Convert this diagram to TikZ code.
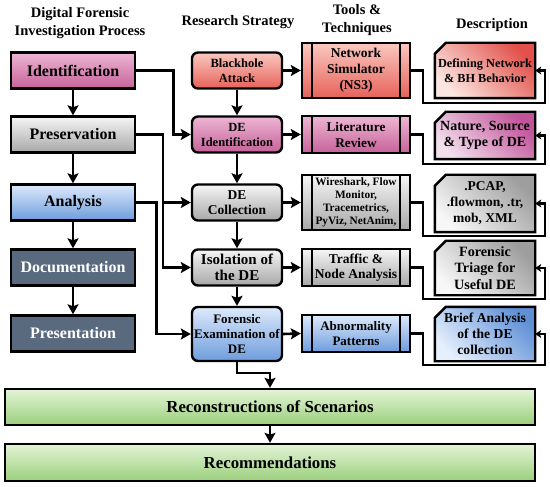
\documentclass[tikz,border=0pt]{standalone}
\usepackage{fontspec}
\setmainfont{Liberation Serif}
\usetikzlibrary{arrows.meta,calc}
\pgfdeclarelayer{bg}
\pgfsetlayers{bg,main}
\definecolor{pinkT}{HTML}{EDB6D3}
\definecolor{pinkB}{HTML}{C7629A}
\definecolor{redT}{HTML}{FAC8C0}
\definecolor{redB}{HTML}{E6625A}
\definecolor{greyT}{HTML}{F5F5F5}
\definecolor{greyB}{HTML}{A8A8A8}
\definecolor{blueT}{HTML}{DDEAFB}
\definecolor{blueB}{HTML}{6E9CDC}
\definecolor{slate}{HTML}{5A6A7E}
\definecolor{greenT}{HTML}{E3F4D7}
\definecolor{greenB}{HTML}{9BCF7C}
\definecolor{dpinkL}{HTML}{F2DFEC}
\definecolor{dpinkD}{HTML}{C2539A}
\definecolor{dredL}{HTML}{FCE6E1}
\definecolor{dredD}{HTML}{E2514B}
\definecolor{dgreyL}{HTML}{F7F7F7}
\definecolor{dgreyD}{HTML}{9E9E9E}
\definecolor{dblueL}{HTML}{E6EFFC}
\definecolor{dblueD}{HTML}{5F90D6}
\newcommand{\myfs}[2]{\fontsize{#1pt}{#2pt}\selectfont}
\begin{document}
\begin{tikzpicture}[x=1pt,y=-1pt,font=\bfseries,line join=miter,
  box/.style={draw=black,line width=2.4pt,align=center,inner sep=1pt},
  procbox/.style={box,minimum width=124pt,minimum height=36pt,font=\bfseries\myfs{16}{18}},
  stratbox/.style={box,rounded corners=6pt,minimum width=90pt},
  toolbox/.style={box,minimum width=108pt},
  descnode/.style={align=center,inner sep=0pt,minimum width=100pt},
  descshape/.style={draw=black,line width=2.4pt},
  hdr/.style={align=center,inner sep=0pt,font=\bfseries\myfs{14.5}{18}},
  arr/.style={line width=2.6pt,-{Stealth[length=10pt,width=11pt,inset=2pt]}},
  arrs/.style={line width=2.2pt,-{Stealth[length=6pt,width=8pt,inset=1.5pt]}},
  vpink/.style={top color=pinkT,bottom color=pinkB},
  vred/.style={top color=redT,bottom color=redB},
  vgrey/.style={top color=greyT,bottom color=greyB},
  vblue/.style={top color=blueT,bottom color=blueB},
  vgreen/.style={top color=greenT,bottom color=greenB},
  dpink/.style={left color=dpinkD,right color=dpinkL,shading angle=315},
  dred/.style={left color=dredD,right color=dredL,shading angle=315},
  dgrey/.style={left color=dgreyD,right color=dgreyL,shading angle=315},
  dblue/.style={left color=dblueD,right color=dblueL,shading angle=315}
]
\useasboundingbox (0,0) rectangle (550,487);

% headers
\node[hdr] (h1) at (80,23) {Digital Forensic\\Investigation Process};
\node[hdr] (h2) at (238,22) {Research Strategy};
\node[hdr] (h3) at (357,20) {Tools \&\\Techniques};
\node[hdr] (h4) at (492,25) {Description};

% column 1
\node[procbox,vpink] (ide) at (73,70.5) {Identification};
\node[procbox,vgrey] (pre) at (73,134.5) {Preservation};
\node[procbox,vblue] (ana) at (73,202.5) {Analysis};
\node[procbox,fill=slate,text=white] (doc) at (73,267.5) {Documentation};
\node[procbox,fill=slate,text=white] (prs) at (73,333.5) {Presentation};

% column 2
\node[stratbox,vred,minimum height=36pt,font=\bfseries\myfs{12.5}{15}] (bh) at (237,70.5) {Blackhole\\Attack};
\node[stratbox,vpink,minimum height=36pt,font=\bfseries\myfs{12.5}{15}] (dei) at (237,134.5) {DE\\Identification};
\node[stratbox,vgrey,minimum height=36pt,font=\bfseries\myfs{13.5}{15.5}] (col) at (237,202.5) {DE\\Collection};
\node[stratbox,vgrey,minimum height=36pt,font=\bfseries\myfs{15}{16.5}] (iso) at (237,267.5) {Isolation of\\the DE};
\node[stratbox,vblue,minimum height=54pt,font=\bfseries\myfs{13}{15}] (fex) at (237,334) {Forensic\\Examination of\\DE};

% column 3
\node[toolbox,vred,minimum height=55pt,font=\bfseries\myfs{13.5}{16}] (t1) at (356,70.5) {Network\\Simulator\\(NS3)};
\node[toolbox,vpink,minimum height=37pt,font=\bfseries\myfs{13.3}{16}] (t2) at (356,134.5) {Literature\\Review};
\node[toolbox,vgrey,minimum height=55pt,font=\bfseries\myfs{11.3}{13}] (t3) at (356,202.5) {Wireshark, Flow\\Monitor,\\Tracemetrics,\\PyViz, NetAnim,};
\node[toolbox,vgrey,minimum height=37pt,font=\bfseries\myfs{13.5}{15.5}] (t4) at (356,267.5) {Traffic \&\\Node Analysis};
\node[toolbox,vblue,minimum height=37pt,font=\bfseries\myfs{13}{15.5}] (t5) at (356,333.5) {Abnormality\\Patterns};
\foreach \n in {t1,t2,t3,t4,t5}{
  \draw[line width=2.4pt] ([xshift=11pt]\n.north west) -- ([xshift=11pt]\n.south west);
  \draw[line width=2.4pt] ([xshift=-11pt]\n.north east) -- ([xshift=-11pt]\n.south east);
}

% column 4
\node[descnode,minimum height=55pt,font=\bfseries\myfs{12.3}{15}] (d1) at (485,70.5) {Defining Network\\\& BH Behavior};
\node[descnode,minimum height=47pt,font=\bfseries\myfs{14}{16.5}] (d2) at (485,135.5) {Nature, Source\\\& Type of DE};
\node[descnode,minimum height=57pt,font=\bfseries\myfs{13.5}{16}] (d3) at (485,203.5) {.PCAP,\\.flowmon, .tr,\\mob, XML};
\node[descnode,minimum height=54pt,font=\bfseries\myfs{14.2}{16.5}] (d4) at (485,268) {Forensic\\Triage for\\Useful DE};
\node[descnode,minimum height=54pt,font=\bfseries\myfs{13.6}{16}] (d5) at (485,334) {Brief Analysis\\of the DE\\collection};
\begin{pgfonlayer}{bg}
\fill[white] (0,0) rectangle (550,487);
\foreach \n/\s in {d1/dred,d2/dpink,d3/dgrey,d4/dgrey,d5/dblue}{
  \draw[descshape,\s] ([yshift=-11pt]\n.north west) -- ([xshift=11pt]\n.north west) -- (\n.north east) -- (\n.south east) -- (\n.south west) -- cycle;
}
\end{pgfonlayer}

% bottom bars
\node[box,vgreen,minimum width=530pt,minimum height=36pt,font=\bfseries\myfs{16.8}{19}] (rec) at (270,407) {Reconstructions of Scenarios};
\node[box,vgreen,minimum width=530pt,minimum height=37pt,font=\bfseries\myfs{16.8}{19}] (rom) at (270,462.5) {Recommendations};

% column 1 vertical arrows
\draw[arr] (ide.south) -- (pre.north);
\draw[arr] (pre.south) -- (ana.north);
\draw[arr] (ana.south) -- (doc.north);
\draw[arr] (doc.south) -- (prs.north);

% column 2 vertical arrows
\draw[arr] (bh.south) -- (dei.north);
\draw[arr] (dei.south) -- (col.north);
\draw[arr] (col.south) -- (iso.north);
\draw[arr] (iso.south) -- (fex.north);

% column 1 to column 2
\draw[arr] (ide.east) -- ++(37,0) |- (dei.west);
\coordinate (pj) at (163,202.5);
\draw[arr] (pre.east) -- (pre.east -| pj) |- (iso.west);
\draw[arr] (pj) -- (col.west);
\draw[arr] (ana.east) -- ++(20,0) |- (fex.west);

% column 2 to column 3
\draw[arr] (bh.east) -- (t1.west);
\draw[arr] (dei.east) -- (t2.west);
\draw[arr] (col.east) -- (t3.west);
\draw[arr] (iso.east) -- (t4.west);
\draw[arr] (fex.east) -- (t5.west);

% column 3 to column 4
\foreach \t/\d/\yb in {t1/d1/103,t2/d2/164,t3/d3/236,t4/d4/299,t5/d5/365}{
  \draw[arrs] (\t.east) -- ++(12,0) |- (545,\yb) |- (\d.east);
}

% to bottom
\coordinate (fk) at (270,373);
\draw[arr] (fex.south) |- (fk) -- (fk |- rec.north);
\draw[arr] (fk |- rec.south) -- (fk |- rom.north);
\end{tikzpicture}
\end{document}
